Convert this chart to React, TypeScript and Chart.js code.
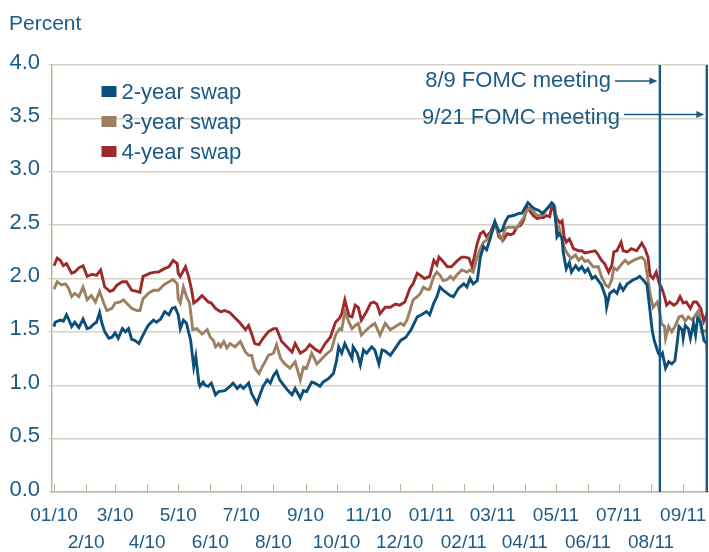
import React, { useEffect, useRef } from 'react';
import { Chart, registerables } from 'chart.js';

Chart.register(...registerables);

// ---- data (x = days since 1 Jan 2010) ----
const monthTicks = [0, 31, 59, 90, 120, 151, 181, 212, 243, 273, 304, 334, 365, 396, 424, 455, 485, 516, 546, 577, 608];
const monthLabels = ['01/10', '2/10', '3/10', '4/10', '5/10', '6/10', '7/10', '8/10', '9/10', '10/10', '11/10', '12/10',
  '01/11', '02/11', '03/11', '04/11', '05/11', '06/11', '07/11', '08/11', '09/11'];
const yTicks = [0, 0.5, 1, 1.5, 2, 2.5, 3, 3.5, 4];
const fomcDays = [585.5, 632];
const fomcLabels = ['8/9 FOMC meeting', '9/21 FOMC meeting'];
const seriesNames = ['2-year swap', '3-year swap', '4-year swap'];

const twoYear: [number, number][] = [
  [0, 1.55], [1, 1.59], [6, 1.61], [9, 1.60], [12, 1.66], [14, 1.62], [17, 1.55], [20, 1.59], [24, 1.54], [28, 1.62],
  [32, 1.53], [35, 1.54], [38, 1.57], [41, 1.59], [44, 1.68], [46, 1.59], [49, 1.50], [53, 1.44], [56, 1.45], [59, 1.49],
  [62, 1.44], [66, 1.53], [69, 1.50], [72, 1.53], [75, 1.43], [78, 1.42], [82, 1.39], [85, 1.45], [88, 1.51], [91, 1.56],
  [96, 1.61], [99, 1.59], [103, 1.62], [107, 1.69], [111, 1.66], [114, 1.72], [117, 1.73], [120, 1.66], [122, 1.53], [125, 1.61],
  [128, 1.58], [132, 1.42], [135, 1.17], [137, 1.27], [140, 1.02], [141, 0.99], [144, 1.03], [146, 1.00], [149, 0.99], [152, 1.02],
  [156, 0.91], [159, 0.94], [165, 0.95], [170, 0.99], [173, 1.02], [177, 0.97], [180, 1.00], [183, 0.97], [188, 1.02], [191, 0.92],
  [196, 0.83], [199, 0.91], [202, 0.99], [206, 1.05], [209, 1.02], [212, 1.09], [215, 1.13], [218, 1.05], [222, 1.00], [226, 0.95],
  [230, 0.91], [233, 0.97], [238, 0.88], [241, 0.95], [244, 0.94], [249, 1.03], [252, 1.02], [257, 0.99], [260, 1.03], [265, 1.06],
  [270, 1.11], [273, 1.23], [275, 1.36], [278, 1.30], [281, 1.39], [284, 1.33], [288, 1.25], [289, 1.36], [293, 1.30], [296, 1.19],
  [299, 1.33], [302, 1.30], [307, 1.36], [310, 1.33], [314, 1.20], [317, 1.33], [320, 1.32], [325, 1.28], [330, 1.35], [335, 1.42],
  [340, 1.45], [345, 1.52], [351, 1.64], [355, 1.66], [360, 1.69], [363, 1.66], [367, 1.77], [370, 1.83], [373, 1.92], [376, 1.89],
  [380, 1.86], [383, 1.84], [386, 1.83], [391, 1.91], [396, 1.95], [399, 1.92], [402, 2.00], [405, 1.95], [409, 1.98], [412, 2.20],
  [415, 2.30], [418, 2.27], [422, 2.39], [426, 2.53], [430, 2.44], [433, 2.45], [436, 2.53], [439, 2.58], [444, 2.59], [449, 2.61],
  [452, 2.61], [455, 2.66], [458, 2.71], [462, 2.67], [465, 2.65], [468, 2.64], [472, 2.61], [475, 2.64], [478, 2.67], [481, 2.71],
  [483, 2.69], [485, 2.52], [486, 2.39], [488, 2.42], [491, 2.38], [492, 2.25], [495, 2.09], [498, 2.15], [500, 2.06], [504, 2.12],
  [507, 2.08], [510, 2.11], [513, 2.06], [516, 2.09], [520, 2.00], [523, 2.02], [526, 1.98], [529, 1.94], [533, 1.83], [534, 1.73],
  [537, 1.86], [541, 1.89], [544, 1.86], [547, 1.94], [550, 1.89], [554, 1.95], [557, 1.97], [560, 1.99], [563, 2.00], [566, 2.02],
  [570, 1.98], [573, 1.94], [575, 1.78], [578, 1.52], [580, 1.42], [583, 1.33], [584, 1.30], [586, 1.27], [588, 1.30], [591, 1.16],
  [594, 1.22], [597, 1.20], [600, 1.23], [602, 1.38], [604, 1.55], [607, 1.52], [608, 1.44], [610, 1.56], [613, 1.53], [615, 1.44],
  [618, 1.58], [620, 1.47], [622, 1.63], [625, 1.59], [628, 1.42], [631, 1.39], [632, 1.17],
];

const threeYear: [number, number][] = [
  [0, 1.90], [3, 1.97], [7, 1.94], [11, 1.95], [14, 1.91], [17, 1.83], [20, 1.86], [24, 1.83], [28, 1.92], [32, 1.80],
  [36, 1.84], [40, 1.78], [44, 1.88], [48, 1.77], [51, 1.70], [56, 1.72], [59, 1.77], [64, 1.78], [67, 1.80], [70, 1.77],
  [75, 1.72], [80, 1.70], [83, 1.70], [86, 1.81], [91, 1.86], [96, 1.89], [101, 1.89], [106, 1.94], [111, 1.97], [115, 1.99],
  [119, 1.95], [120, 1.81], [122, 1.77], [125, 1.92], [128, 1.83], [131, 1.77], [134, 1.52], [138, 1.53], [143, 1.48], [148, 1.52],
  [151, 1.45], [154, 1.42], [156, 1.36], [159, 1.39], [161, 1.36], [164, 1.41], [167, 1.35], [170, 1.39], [175, 1.36], [180, 1.41],
  [185, 1.31], [188, 1.28], [191, 1.28], [194, 1.16], [198, 1.11], [201, 1.17], [204, 1.22], [207, 1.28], [212, 1.30], [215, 1.38],
  [219, 1.25], [223, 1.20], [228, 1.16], [233, 1.22], [238, 1.05], [241, 1.17], [244, 1.16], [249, 1.30], [254, 1.20], [259, 1.25],
  [264, 1.30], [268, 1.33], [272, 1.47], [276, 1.53], [278, 1.52], [281, 1.69], [285, 1.59], [288, 1.53], [291, 1.56], [294, 1.58],
  [297, 1.47], [302, 1.52], [307, 1.56], [310, 1.58], [315, 1.47], [320, 1.58], [325, 1.52], [330, 1.55], [335, 1.58], [338, 1.56],
  [341, 1.61], [344, 1.70], [347, 1.80], [351, 1.83], [354, 1.86], [357, 1.92], [360, 1.90], [363, 1.90], [367, 2.02], [370, 2.06],
  [373, 2.03], [376, 1.98], [380, 1.99], [383, 2.02], [386, 1.99], [389, 2.03], [394, 2.08], [399, 2.06], [402, 2.08], [405, 2.06],
  [409, 2.20], [412, 2.28], [415, 2.34], [418, 2.36], [422, 2.42], [426, 2.50], [430, 2.42], [433, 2.36], [436, 2.47], [439, 2.48],
  [444, 2.48], [447, 2.47], [451, 2.53], [454, 2.57], [457, 2.64], [460, 2.66], [463, 2.63], [467, 2.59], [470, 2.59], [473, 2.60],
  [476, 2.65], [481, 2.70], [484, 2.67], [486, 2.45], [488, 2.48], [491, 2.36], [494, 2.27], [497, 2.22], [500, 2.19], [504, 2.22],
  [507, 2.17], [510, 2.20], [513, 2.16], [516, 2.17], [521, 2.11], [526, 2.11], [529, 2.02], [533, 1.94], [536, 1.92], [539, 1.99],
  [541, 2.10], [544, 2.08], [549, 2.14], [552, 2.17], [555, 2.14], [560, 2.17], [565, 2.19], [568, 2.20], [571, 2.17], [573, 2.05],
  [576, 1.86], [579, 1.73], [583, 1.78], [585, 1.70], [587, 1.58], [590, 1.55], [591, 1.44], [594, 1.55], [597, 1.50], [600, 1.55],
  [604, 1.64], [607, 1.65], [610, 1.60], [613, 1.64], [617, 1.61], [620, 1.66], [623, 1.70], [626, 1.50], [630, 1.51], [632, 1.49],
];

const fourYear: [number, number][] = [
  [0, 2.12], [3, 2.19], [6, 2.17], [9, 2.12], [12, 2.14], [17, 2.05], [20, 2.06], [24, 2.10], [28, 2.12], [32, 2.02],
  [37, 2.04], [41, 2.03], [45, 2.08], [49, 1.92], [54, 1.88], [57, 1.89], [61, 1.94], [66, 1.97], [70, 1.97], [75, 1.89],
  [80, 1.88], [83, 1.87], [86, 2.02], [93, 2.05], [98, 2.06], [101, 2.06], [106, 2.09], [111, 2.11], [115, 2.17], [119, 2.14],
  [120, 2.05], [122, 2.02], [127, 2.11], [130, 2.02], [133, 1.89], [135, 1.77], [139, 1.80], [143, 1.84], [146, 1.81], [149, 1.78],
  [152, 1.77], [156, 1.72], [159, 1.70], [161, 1.69], [165, 1.70], [170, 1.68], [175, 1.63], [180, 1.58], [185, 1.52], [188, 1.56],
  [191, 1.48], [194, 1.39], [198, 1.38], [202, 1.44], [207, 1.50], [212, 1.53], [215, 1.53], [220, 1.41], [225, 1.36], [230, 1.31],
  [233, 1.39], [238, 1.30], [243, 1.33], [247, 1.38], [252, 1.34], [257, 1.31], [262, 1.39], [267, 1.45], [272, 1.59], [276, 1.63],
  [278, 1.67], [281, 1.80], [285, 1.65], [288, 1.64], [291, 1.75], [294, 1.73], [297, 1.61], [302, 1.69], [306, 1.77], [309, 1.78],
  [312, 1.76], [315, 1.67], [320, 1.73], [325, 1.73], [330, 1.76], [334, 1.75], [339, 1.78], [344, 1.91], [347, 1.95], [351, 2.05],
  [354, 2.03], [358, 2.00], [363, 2.02], [367, 2.17], [370, 2.13], [372, 2.20], [376, 2.16], [380, 2.11], [384, 2.11], [389, 2.16],
  [394, 2.20], [397, 2.20], [401, 2.19], [404, 2.11], [409, 2.33], [412, 2.42], [415, 2.44], [418, 2.39], [422, 2.44], [426, 2.53],
  [430, 2.39], [434, 2.36], [438, 2.42], [441, 2.41], [444, 2.42], [447, 2.48], [451, 2.50], [454, 2.55], [457, 2.67], [460, 2.63],
  [463, 2.59], [467, 2.56], [470, 2.57], [473, 2.57], [476, 2.59], [479, 2.58], [481, 2.67], [484, 2.63], [486, 2.56], [489, 2.52],
  [491, 2.54], [493, 2.39], [495, 2.34], [498, 2.37], [502, 2.28], [507, 2.26], [510, 2.26], [513, 2.24], [518, 2.25], [523, 2.26],
  [526, 2.22], [529, 2.17], [532, 2.14], [536, 2.06], [539, 2.12], [541, 2.25], [544, 2.26], [548, 2.34], [550, 2.26], [554, 2.25],
  [558, 2.28], [563, 2.26], [568, 2.33], [571, 2.28], [574, 2.20], [576, 2.03], [579, 2.00], [582, 2.06], [585, 1.95], [587, 1.92],
  [590, 1.83], [592, 1.75], [595, 1.78], [599, 1.75], [602, 1.77], [605, 1.83], [608, 1.77], [611, 1.78], [615, 1.72], [618, 1.78],
  [621, 1.78], [625, 1.72], [628, 1.60], [631, 1.67], [632, 1.66],
];

// ---- styles ----
const TEXT = '#1d5a85';
const BLUE = '#0d4f7b';
const TAN = '#9c8062';
const RED = '#9d2a2b';
const GRID = '#d5d2c6';
const AXIS = '#bcb7a4';
const VLINE = '#1b5a86';
const FONT = '"Liberation Sans", Arial, Helvetica, sans-serif';
const seriesColors = [BLUE, TAN, RED];

const overlayPlugin = {
  id: 'overlay',
  afterDatasetsDraw(chart: any) {
    const { ctx, chartArea: a, scales } = chart;
    const x = scales.x;
    ctx.save();
    // inner tick marks on the x axis
    ctx.strokeStyle = AXIS;
    ctx.lineWidth = 1;
    monthTicks.forEach((d) => {
      const px = Math.round(x.getPixelForValue(d)) + 0.5;
      ctx.beginPath();
      ctx.moveTo(px, a.bottom);
      ctx.lineTo(px, a.bottom - 8);
      ctx.stroke();
    });
    // FOMC vertical lines + annotations
    const arrowY = [81, 114.5];
    const arrowStart = [615, 624];
    const textBase = [87, 124];
    fomcDays.forEach((d, i) => {
      const px = Math.min(x.getPixelForValue(d), a.right - 1.2);
      ctx.strokeStyle = VLINE;
      ctx.lineWidth = 2.4;
      ctx.beginPath();
      ctx.moveTo(px, a.top);
      ctx.lineTo(px, a.bottom);
      ctx.stroke();

      const tip = px - 2.5;
      ctx.strokeStyle = VLINE;
      ctx.fillStyle = VLINE;
      ctx.lineWidth = 1.4;
      ctx.beginPath();
      ctx.moveTo(arrowStart[i], arrowY[i]);
      ctx.lineTo(tip - 6, arrowY[i]);
      ctx.stroke();
      ctx.beginPath();
      ctx.moveTo(tip, arrowY[i]);
      ctx.lineTo(tip - 8, arrowY[i] - 3.5);
      ctx.lineTo(tip - 8, arrowY[i] + 3.5);
      ctx.closePath();
      ctx.fill();

      ctx.fillStyle = TEXT;
      ctx.font = `22px ${FONT}`;
      ctx.textAlign = 'right';
      ctx.textBaseline = 'alphabetic';
      ctx.fillText(fomcLabels[i], arrowStart[i] - 4, textBase[i]);
    });
    ctx.restore();
  },
  afterDraw(chart: any) {
    const { ctx } = chart;
    ctx.save();
    ctx.fillStyle = TEXT;
    ctx.textAlign = 'left';
    ctx.textBaseline = 'alphabetic';
    ctx.font = `21px ${FONT}`;
    ctx.fillText('Percent', 9, 29.5);
    // legend
    ctx.font = `22px ${FONT}`;
    seriesNames.forEach((name, i) => {
      ctx.fillStyle = seriesColors[i];
      ctx.fillRect(101.5, 86 + i * 30, 15, 11);
      ctx.fillStyle = TEXT;
      ctx.fillText(name, 121.5, 99 + i * 30);
    });
    ctx.restore();
  },
};

export default function App() {
  const canvasRef = useRef<HTMLCanvasElement | null>(null);

  useEffect(() => {
    const canvas = canvasRef.current;
    if (!canvas) return;
    const toPts = (arr: [number, number][]) => arr.map(([d, v]) => ({ x: d, y: v }));
    const allSeries = [twoYear, threeYear, fourYear];
    const chart = new Chart(canvas, {
      type: 'line',
      data: {
        datasets: allSeries.map((s, i) => ({
          label: seriesNames[i],
          data: toPts(s),
          borderColor: seriesColors[i],
          backgroundColor: seriesColors[i],
          borderWidth: 2.9,
          pointRadius: 0,
          tension: 0,
          fill: false,
        })),
      },
      options: {
        animation: false,
        responsive: false,
        maintainAspectRatio: false,
        devicePixelRatio: 1,
        layout: { padding: { top: 65, right: 1, left: 0, bottom: 0 } },
        plugins: {
          legend: { display: false },
          title: { display: false },
          tooltip: { enabled: false },
        },
        scales: {
          x: {
            type: 'linear',
            min: -2,
            max: 632,
            afterBuildTicks: (scale: any) => {
              scale.ticks = monthTicks.map((v) => ({ value: v }));
            },
            afterFit: (scale: any) => {
              scale.height = 60;
              scale.paddingLeft = 0;
              scale.paddingRight = 0;
            },
            grid: { display: false, drawTicks: false },
            border: { display: true, color: AXIS, width: 1.5 },
            ticks: {
              autoSkip: false,
              maxRotation: 0,
              minRotation: 0,
              padding: 10,
              color: TEXT,
              font: { family: FONT, size: 19, lineHeight: 1.42 },
              callback: (_v: any, index: number) =>
                index % 2 === 0 ? [monthLabels[index], ''] : ['', monthLabels[index]],
            },
          },
          y: {
            type: 'linear',
            min: 0,
            max: 4,
            afterBuildTicks: (scale: any) => {
              scale.ticks = yTicks.map((v) => ({ value: v }));
            },
            afterFit: (scale: any) => {
              scale.width = 52;
              scale.paddingTop = 0;
              scale.paddingBottom = 0;
            },
            grid: { color: GRID, lineWidth: 1.5, tickLength: 3, drawTicks: true },
            border: { display: true, color: AXIS, width: 1.5 },
            ticks: {
              padding: 9,
              labelOffset: -2.5,
              color: TEXT,
              font: { family: FONT, size: 22 },
              callback: (v: any) => Number(v).toFixed(1),
            },
          },
        },
      },
      plugins: [overlayPlugin],
    } as any);
    return () => chart.destroy();
  }, []);

  return (
    <div style={{ position: 'absolute', left: 0, top: 0, width: 709, height: 552, background: '#fff' }}>
      <canvas ref={canvasRef} width={709} height={552} style={{ width: 709, height: 552, display: 'block' }} />
    </div>
  );
}
